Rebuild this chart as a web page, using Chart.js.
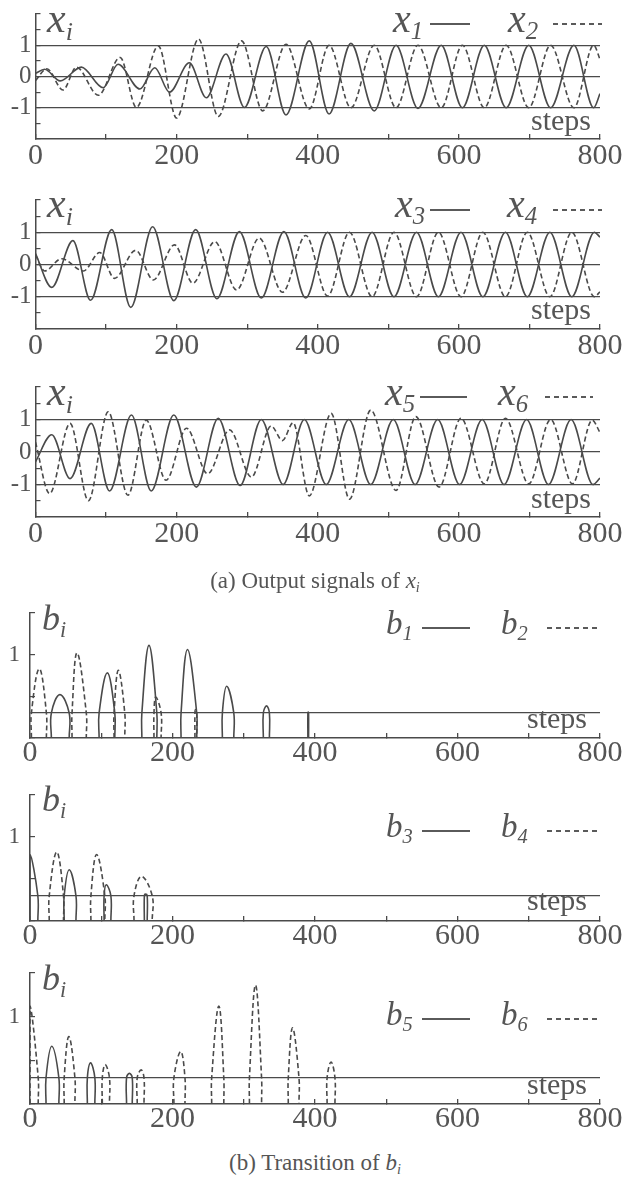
<!DOCTYPE html>
<html lang="en">
<head>
<meta charset="UTF-8">
<title>Output signals of x and transition of b</title>
<script src="https://cdn.jsdelivr.net/npm/chart.js"></script>
<style>
  body { margin: 0; background: #fff; width: 627px; height: 1179px; position: relative; overflow: hidden;
         font-family: 'Liberation Serif', 'Times New Roman', serif; color: #555; }
  .box { position: absolute; left: 0; }
  .lbl { position: absolute; line-height: 1; white-space: nowrap; }
  .it { font-style: italic; }
  .sub { font-size: 0.62em; position: relative; top: 0.3em; }
  .ln { position: absolute; height: 2px; background: #5a5a5a; }
  .ln.dash { background: repeating-linear-gradient(90deg, #5a5a5a 0 5px, transparent 5px 9px); }
</style>
</head>
<body>
<script>
// x axis
const stepTicks = [0, 100, 200, 300, 400, 500, 600, 700, 800];
const stepLabels = [0, 200, 400, 600, 800];

// (a) output signals, extrema (step, value)
const x1Steps = [0, 13, 35, 65, 96, 117, 148, 169, 190, 218, 242, 270, 296, 327, 355, 388, 416, 447, 480, 511, 542, 575, 605, 636, 667, 699, 730, 763, 791, 800];
const x1Vals  = [0.1, 0.23, -0.14, 0.3, -0.36, 0.39, -0.4, 0.28, -0.5, 0.44, -0.68, 0.72, -0.99, 0.96, -1.23, 1.14, -1.2, 1.06, -1.1, 1.0, -1.02, 1.0, -1.0, 1.0, -1.0, 1.0, -1.0, 1.0, -1.0, -0.55];
const x2Steps = [0, 16, 39, 58, 89, 120, 143, 174, 200, 231, 259, 292, 322, 355, 388, 416, 447, 480, 511, 542, 575, 605, 636, 667, 699, 730, 763, 791, 800];
const x2Vals  = [-0.13, 0.25, -0.43, 0.3, -0.6, 0.61, -0.99, 0.98, -1.33, 1.2, -1.28, 1.14, -1.1, 1.03, -1.04, 1.0, -1.0, 1.0, -1.0, 1.0, -1.0, 1.0, -1.0, 1.0, -1.0, 1.0, -1.0, 1.0, 0.55];

const x3Steps = [0, 23, 53, 78, 108, 135, 166, 196, 227, 257, 289, 320, 352, 383, 414, 445, 477, 508, 540, 571, 603, 634, 666, 697, 729, 760, 792, 800];
const x3Vals  = [0.34, -0.71, 0.74, -1.11, 1.08, -1.33, 1.17, -1.12, 1.08, -1.06, 1.02, -1.04, 1.02, -1.04, 1.0, -1.0, 1.0, -1.0, 1.0, -1.0, 1.0, -1.0, 1.0, -1.0, 1.0, -1.0, 1.0, 0.85];
const x4Steps = [0, 13, 37, 68, 91, 112, 142, 167, 197, 223, 254, 285, 317, 350, 383, 414, 445, 477, 508, 540, 571, 603, 634, 666, 697, 729, 760, 792, 800];
const x4Vals  = [0.3, -0.2, 0.18, -0.2, 0.37, -0.43, 0.44, -0.48, 0.61, -0.58, 0.71, -0.79, 0.82, -0.86, 0.9, -0.98, 1.0, -1.0, 1.0, -1.0, 1.0, -1.0, 1.0, -1.0, 1.0, -1.0, 1.0, -1.0, -0.85];

const x5Steps = [0, 23, 49, 79, 105, 136, 164, 196, 228, 259, 290, 320, 351, 381, 412, 444, 475, 507, 538, 570, 601, 633, 664, 696, 727, 759, 790, 800];
const x5Vals  = [-0.3, 0.53, -0.82, 0.88, -1.2, 1.14, -1.2, 1.14, -1.08, 1.04, -1.03, 1.0, -1.0, 1.0, -1.0, 1.0, -1.0, 1.0, -1.0, 1.0, -1.0, 1.0, -1.0, 1.0, -1.0, 1.0, -1.0, -0.8];
const x6Steps = [0, 20, 49, 75, 103, 131, 157, 185, 214, 244, 275, 306, 334, 350, 365, 388, 419, 445, 475, 511, 539, 572, 603, 636, 666, 699, 730, 761, 789, 800];
const x6Vals  = [0.3, -1.28, 0.88, -1.5, 1.24, -1.33, 0.98, -0.87, 0.73, -0.67, 0.68, -0.77, 0.8, 0.35, 0.9, -1.35, 1.19, -1.45, 1.29, -1.18, 1.09, -1.08, 1.04, -0.98, 1.04, -0.98, 1.0, -0.98, 0.98, 0.6];

// (b) transition of b: one hump per entry (start step, peak step, end step, peak value)
const bCut = 0.3;
const b1Start = [30, 97, 157, 212, 270, 327.5, 390];
const b1Peak  = [42, 108.5, 167, 221, 276, 332, 390.5];
const b1End   = [55, 119, 178, 234, 286, 336, 391];
const b1Top   = [0.52, 0.78, 1.11, 1.06, 0.62, 0.385, 0.31];
const b2Start = [2, 59, 118, 174, 231.5];
const b2Peak  = [13, 66, 124, 176.5, 232.5];
const b2End   = [23, 79, 133, 184, 234];
const b2Top   = [0.83, 1.02, 0.81, 0.49, 0.34];

const b3Start = [0, 48, 104, 160.5];
const b3Peak  = [0, 55, 107, 162];
const b3End   = [11, 64.5, 113.5, 164.5];
const b3Top   = [0.79, 0.61, 0.43, 0.32];
const b4Start = [27, 85.5, 146];
const b4Peak  = [37.5, 93.5, 156.5];
const b4End   = [47, 105, 171.5];
const b4Top   = [0.82, 0.79, 0.53];

const b5Start = [22.5, 80.5, 135.5];
const b5Peak  = [30.5, 85, 139.5];
const b5End   = [40.5, 91, 143.5];
const b5Top   = [0.66, 0.47, 0.35];
const b6Start = [0, 48, 101.5, 150.5, 202, 255, 308, 362.5, 417];
const b6Peak  = [0, 54.5, 105.5, 156, 211.5, 265, 316.5, 368.5, 422.5];
const b6End   = [11.5, 63, 111.5, 160, 217.5, 272, 325, 377.5, 428];
const b6Top   = [1.12, 0.77, 0.45, 0.39, 0.6, 1.12, 1.36, 0.87, 0.48];

const INK = '#4a4a4a';
const TXT = '#555';
Chart.defaults.font.family = "'Liberation Serif', 'Times New Roman', serif";

function wave(steps, vals, dashed) {
    return {
        data: steps.map((s, i) => ({ x: s, y: vals[i] })),
        borderColor: INK, borderWidth: 1.6, borderDash: dashed ? [5, 3] : [],
        cubicInterpolationMode: 'monotone', pointRadius: 0
    };
}

function humps(starts, peaks, ends, tops, dashed) {
    const pts = [];
    starts.forEach((s, i) => {
        pts.push({ x: s, y: 0 }, { x: s, y: bCut }, { x: peaks[i], y: tops[i] },
                 { x: ends[i], y: bCut }, { x: ends[i], y: 0 }, { x: ends[i] + 0.1, y: null });
    });
    return {
        data: pts, borderColor: INK, borderWidth: 1.6, borderDash: dashed ? [5, 3] : [],
        tension: 0.4, pointRadius: 0, spanGaps: false
    };
}

function plot(p) {
    const top = p.areaTop - 22;
    const height = p.areaBottom - top + 44;
    const wrap = document.createElement('div');
    wrap.className = 'box';
    wrap.style.top = top + 'px';
    const cv = document.createElement('canvas');
    cv.width = 627;
    cv.height = height;
    wrap.appendChild(cv);
    document.body.appendChild(wrap);

    new Chart(cv, {
        type: 'line',
        data: { datasets: p.datasets },
        options: {
            responsive: false,
            animation: false,
            layout: { padding: { left: 0, right: 627 - p.right, top: 22, bottom: 0 } },
            plugins: { legend: { display: false }, tooltip: { enabled: false } },
            scales: {
                x: {
                    type: 'linear', min: 0, max: 800,
                    afterFit: s => { s.height = 44; },
                    afterBuildTicks: s => { s.ticks = stepTicks.map(v => ({ value: v })); },
                    ticks: {
                        autoSkip: false, maxRotation: 0, padding: p.xPad, color: TXT, font: { size: 30 },
                        callback: v => stepLabels.includes(v) ? String(v) : ''
                    },
                    grid: { drawOnChartArea: false, tickLength: -5, tickColor: INK, lineWidth: 1.3 },
                    border: { color: INK, width: 1.5 }
                },
                y: {
                    type: 'linear', min: p.yTicks[0], max: p.yTicks[p.yTicks.length - 1],
                    afterFit: s => { s.width = p.left; },
                    afterBuildTicks: s => { s.ticks = p.yTicks.map(v => ({ value: v })); },
                    ticks: {
                        autoSkip: false, padding: p.yPad, color: TXT, font: { size: p.ySize },
                        callback: v => p.yLabels.includes(v) ? String(v) : ''
                    },
                    grid: {
                        color: c => p.yLines.includes(c.tick.value) ? INK : 'transparent',
                        tickColor: c => p.yLines.includes(c.tick.value) && !p.yLabels.includes(c.tick.value) ? 'transparent' : INK,
                        tickLength: -5, lineWidth: 1.2
                    },
                    border: { color: INK, width: 1.5 }
                }
            }
        }
    });
}

const topTicks = [-2, -1.5, -1, -0.5, 0, 0.5, 1, 1.5, 2];
const topLabels = [1, 0, -1];
const botTicks = [0, 0.3, 0.5, 1, 1.5];
const botLabels = [1];

const topBox = { left: 35.5, right: 601, yTicks: topTicks, yLabels: topLabels, yLines: topLabels, ySize: 25, yPad: 9, xPad: 4.5 };
const botBox = { left: 30, right: 600, yTicks: botTicks, yLabels: botLabels, yLines: [bCut], ySize: 23, yPad: 15, xPad: 2 };

plot({ ...topBox, areaTop: 12, areaBottom: 139.5,
       datasets: [wave(x1Steps, x1Vals, false), wave(x2Steps, x2Vals, true)] });
plot({ ...topBox, areaTop: 197.5, areaBottom: 328.5,
       datasets: [wave(x3Steps, x3Vals, false), wave(x4Steps, x4Vals, true)] });
plot({ ...topBox, areaTop: 385, areaBottom: 517.5,
       datasets: [wave(x5Steps, x5Vals, false), wave(x6Steps, x6Vals, true)] });
plot({ ...botBox, areaTop: 606, areaBottom: 738.5,
       datasets: [humps(b1Start, b1Peak, b1End, b1Top, false), humps(b2Start, b2Peak, b2End, b2Top, true)] });
plot({ ...botBox, areaTop: 787.5, areaBottom: 920.5,
       datasets: [humps(b3Start, b3Peak, b3End, b3Top, false), humps(b4Start, b4Peak, b4End, b4Top, true)] });
plot({ ...botBox, areaTop: 966, areaBottom: 1104,
       datasets: [humps(b5Start, b5Peak, b5End, b5Top, false), humps(b6Start, b6Peak, b6End, b6Top, true)] });

// text overlays
function label(html, x, base, size, centre) {
    const d = document.createElement('div');
    d.className = 'lbl';
    d.innerHTML = html;
    d.style.fontSize = size + 'px';
    d.style.top = (base - 0.8375 * size) + 'px';
    d.style.left = x + 'px';
    if (centre) d.style.transform = 'translateX(-50%)';
    document.body.appendChild(d);
}
function rule(x1, x2, y, dashed) {
    const d = document.createElement('div');
    d.className = dashed ? 'ln dash' : 'ln';
    d.style.left = Math.round(x1) + 'px';
    d.style.width = Math.round(x2 - x1) + 'px';
    d.style.top = Math.round(y) + 'px';
    document.body.appendChild(d);
}
const sym = (v, i) => `<span class="it">${v}<span class="sub">${i}</span></span>`;

[[12, 139.5, ['1', '2'], [393, 430, 470, 508, 553, 602]],
 [197.5, 328.5, ['3', '4'], [395, 430, 470, 507, 553, 602]],
 [385, 517.5, ['5', '6'], [385, 420, 467, 498, 545, 593]]].forEach(([t, b, n, xs]) => {
    label(sym('x', 'i'), 47, t + 20, 42);
    label(sym('x', n[0]), xs[0], t + 20, 40);
    rule(xs[1], xs[2], t + 11, false);
    label(sym('x', n[1]), xs[3], t + 20, 40);
    rule(xs[4], xs[5], t + 11, true);
    label('steps', 531, b - 9.5, 30);
});

// [area top, area bottom, indices, legend baseline]
[[606, 738.5, ['1', '2'], 635], [787.5, 920.5, ['3', '4'], 838], [966, 1104, ['5', '6'], 1026]].forEach(([t, b, n, lb]) => {
    label(sym('b', 'i'), 42, t + 24, 36);
    label(sym('b', n[0]), 386, lb, 33);
    rule(422, 470, lb - 8, false);
    label(sym('b', n[1]), 501, lb, 33);
    rule(547, 597, lb - 8, true);
    label('steps', 527, b - 10, 30);
});

label('(a) Output signals of ' + sym('x', 'i'), 315, 588, 23, true);
label('(b) Transition of ' + sym('b', 'i'), 315, 1170, 23, true);
</script>
</body>
</html>
